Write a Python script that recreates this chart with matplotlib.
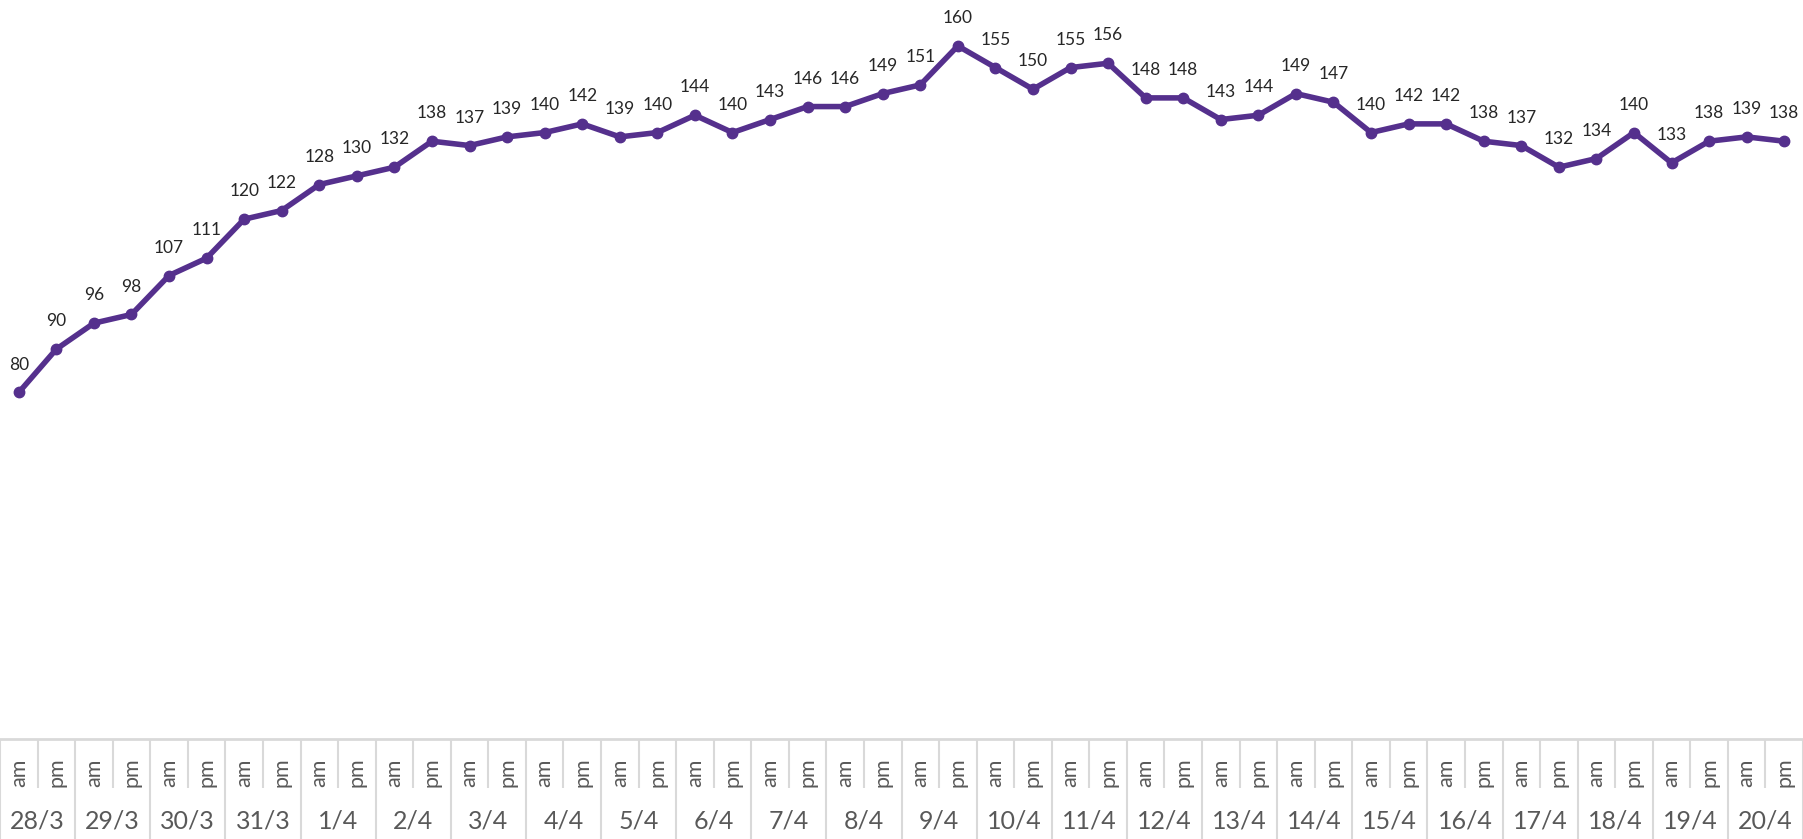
import matplotlib
matplotlib.use("Agg")
import matplotlib.pyplot as plt
from matplotlib.transforms import blended_transform_factory

days = ["28/3", "29/3", "30/3", "31/3", "1/4", "2/4", "3/4", "4/4", "5/4", "6/4",
        "7/4", "8/4", "9/4", "10/4", "11/4", "12/4", "13/4", "14/4", "15/4", "16/4",
        "17/4", "18/4", "19/4", "20/4"]
halves = ["am", "pm"]
values = [80, 90, 96, 98, 107, 111, 120, 122, 128, 130, 132, 138,
          137, 139, 140, 142, 139, 140, 144, 140, 143, 146, 146, 149,
          151, 160, 155, 150, 155, 156, 148, 148, 143, 144, 149, 147,
          140, 142, 142, 138, 137, 132, 134, 140, 133, 138, 139, 138]

plt.rcParams['font.family'] = ['Lato', 'DejaVu Sans']

W, H = 1803, 839
fig = plt.figure(figsize=(W / 100, H / 100), dpi=100)
axis_y = 739
ax = fig.add_axes([0, (H - axis_y) / H, 1, axis_y / H])

line_color = "#55308D"
grid_color = "#D9D9D9"
n = len(values)
xs = list(range(n))
ax.plot(xs, values, color=line_color, lw=4, marker="o", ms=7.5,
        solid_joinstyle="round", zorder=3)

for x, v in zip(xs, values):
    ax.annotate(str(v), (x, v), xytext=(0, 20), textcoords="offset points",
                ha="center", va="center", fontsize=12.5, color="#262626")

ax.set_xlim(-0.5, n - 0.5)
ax.set_ylim(0, 170.6)
ax.set_yticks([])
for s in ["top", "left", "right"]:
    ax.spines[s].set_visible(False)
ax.spines["bottom"].set_color(grid_color)
ax.spines["bottom"].set_linewidth(2)

# category separators
major = [i * 2 - 0.5 for i in range(len(days) + 1)]
minor = [i * 2 + 0.5 for i in range(len(days))]
ax.set_xticks(major)
ax.set_xticks(minor, minor=True)
ax.tick_params(axis="x", which="major", length=72, width=1.5, color=grid_color,
               labelbottom=False, direction="out")
ax.tick_params(axis="x", which="minor", length=35, width=1.5, color=grid_color,
               labelbottom=False, direction="out")

tr = blended_transform_factory(ax.transData, ax.transAxes)
for d_i, d in enumerate(days):
    for h_i, h in enumerate(halves):
        x = d_i * 2 + h_i
        ax.annotate(h, (x, 0), xycoords=tr, xytext=(0, -24),
                    textcoords="offset points", ha="center", va="center",
                    rotation=90, fontsize=15.5, color="#595959")
    ax.annotate(d, (d_i * 2 + 0.5, 0), xycoords=tr, xytext=(0, -59),
                textcoords="offset points", ha="center", va="center",
                fontsize=18, color="#595959")

fig.savefig("out.png", dpi=100)
